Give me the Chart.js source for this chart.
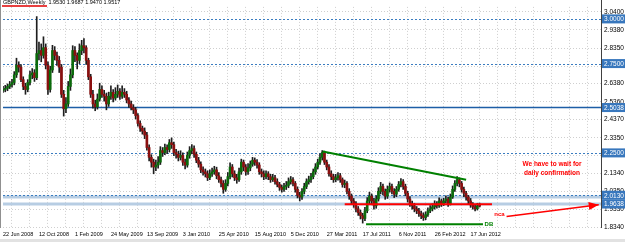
<!DOCTYPE html>
<html>
<head>
<meta charset="utf-8">
<script src="https://cdn.jsdelivr.net/npm/chart.js@4.4.1/dist/chart.umd.min.js"></script>
<style>
  html, body { margin: 0; padding: 0; background: #ffffff; }
  #wrap { position: relative; width: 625px; height: 242px; }
</style>
</head>
<body>
<div id="wrap"><canvas id="chart"></canvas></div>
<script>
// GBPNZD weekly candles, week 0 = 22 Jun 2008
const weekOpen = [
  2.600,2.605,2.611,2.622,2.633,2.644,2.687,2.741,2.730,2.660,
  2.622,2.605,2.644,2.687,2.698,2.671,2.806,2.823,2.796,2.839,
  2.741,2.605,2.714,2.823,2.796,2.768,2.730,2.578,2.497,2.524,
  2.622,2.687,2.823,2.796,2.768,2.823,2.850,2.839,2.768,2.676,
  2.578,2.524,2.508,2.551,2.605,2.578,2.567,2.524,2.567,2.589,
  2.557,2.578,2.595,2.567,2.589,2.578,2.546,2.524,2.502,2.491,
  2.459,2.415,2.388,2.372,2.350,2.280,2.225,2.198,2.171,2.182,
  2.198,2.263,2.252,2.280,2.269,2.307,2.296,2.252,2.242,2.225,
  2.236,2.198,2.182,2.236,2.263,2.274,2.242,2.209,2.187,2.155,
  2.144,2.133,2.111,2.133,2.144,2.155,2.122,2.100,2.079,2.046,
  2.079,2.117,2.171,2.133,2.111,2.100,2.144,2.198,2.171,2.144,
  2.166,2.187,2.209,2.198,2.182,2.144,2.133,2.117,2.133,2.117,
  2.100,2.111,2.089,2.073,2.057,2.046,2.062,2.068,2.089,2.100,
  2.079,2.046,2.013,2.003,2.035,2.062,2.089,2.100,2.117,2.144,
  2.171,2.198,2.225,2.252,2.198,2.171,2.133,2.117,2.100,2.111,
  2.122,2.100,2.073,2.079,2.035,2.008,1.981,1.965,1.937,1.916,
  1.899,1.883,1.926,1.981,2.008,1.981,1.954,1.992,2.035,2.062,
  2.035,2.008,2.046,2.062,2.035,2.019,2.046,2.073,2.089,2.062,
  2.024,1.992,1.965,1.954,1.937,1.926,1.910,1.899,1.888,1.905,
  1.926,1.937,1.948,1.965,1.954,1.981,1.965,1.981,1.992,1.965,
  2.003,2.046,2.079,2.100,2.079,2.046,2.024,2.003,1.981,1.959,
  1.948,1.937,1.9530
];
const weekHigh = [
  2.622,2.628,2.636,2.650,2.662,2.705,2.780,2.760,2.744,2.676,
  2.640,2.660,2.708,2.722,2.716,3.013,2.870,2.860,2.900,2.860,
  2.760,2.735,2.852,2.845,2.815,2.790,2.745,2.600,2.560,2.650,
  2.720,2.850,2.845,2.810,2.860,2.880,2.890,2.850,2.780,2.690,
  2.600,2.545,2.580,2.640,2.625,2.600,2.585,2.590,2.625,2.605,
  2.615,2.630,2.610,2.625,2.610,2.595,2.560,2.540,2.520,2.505,
  2.470,2.430,2.400,2.390,2.365,2.295,2.240,2.215,2.210,2.230,
  2.285,2.280,2.300,2.295,2.325,2.334,2.310,2.270,2.260,2.262,
  2.250,2.215,2.255,2.285,2.296,2.290,2.255,2.225,2.200,2.172,
  2.160,2.150,2.155,2.165,2.175,2.170,2.140,2.115,2.095,2.100,
  2.140,2.195,2.185,2.150,2.130,2.165,2.215,2.210,2.185,2.190,
  2.205,2.225,2.222,2.212,2.195,2.160,2.150,2.150,2.145,2.130,
  2.130,2.125,2.105,2.085,2.070,2.080,2.090,2.110,2.118,2.112,
  2.090,2.060,2.030,2.050,2.080,2.105,2.120,2.135,2.160,2.190,
  2.215,2.245,2.263,2.260,2.210,2.185,2.150,2.130,2.130,2.140,
  2.135,2.110,2.098,2.090,2.050,2.020,1.995,1.978,1.950,1.930,
  1.912,1.945,2.000,2.030,2.020,1.995,2.010,2.055,2.085,2.075,
  2.048,2.065,2.082,2.075,2.050,2.062,2.090,2.106,2.100,2.075,
  2.035,2.005,1.980,1.968,1.950,1.940,1.925,1.915,1.920,1.942,
  1.955,1.965,1.982,1.978,1.998,1.992,1.996,2.010,2.002,2.020,
  2.065,2.095,2.117,2.110,2.090,2.058,2.035,2.012,1.995,1.972,
  1.960,1.968,1.9687
];
const weekLow = [
  2.588,2.592,2.598,2.610,2.618,2.631,2.672,2.702,2.648,2.604,
  2.578,2.592,2.630,2.665,2.650,2.660,2.770,2.760,2.780,2.720,
  2.578,2.590,2.700,2.770,2.740,2.700,2.560,2.456,2.475,2.510,
  2.600,2.670,2.760,2.720,2.750,2.800,2.810,2.745,2.660,2.560,
  2.500,2.486,2.495,2.540,2.560,2.540,2.491,2.510,2.550,2.535,
  2.545,2.560,2.550,2.555,2.560,2.530,2.505,2.490,2.470,2.440,
  2.400,2.370,2.355,2.330,2.265,2.205,2.170,2.133,2.150,2.165,
  2.185,2.230,2.240,2.245,2.255,2.275,2.235,2.220,2.205,2.210,
  2.180,2.160,2.170,2.220,2.245,2.225,2.195,2.170,2.140,2.125,
  2.115,2.095,2.100,2.118,2.130,2.105,2.085,2.060,2.024,2.035,
  2.065,2.105,2.115,2.095,2.080,2.090,2.130,2.150,2.125,2.130,
  2.150,2.175,2.180,2.165,2.130,2.115,2.100,2.105,2.100,2.085,
  2.090,2.075,2.060,2.040,2.030,2.035,2.045,2.055,2.075,2.065,
  2.030,1.998,1.981,1.990,2.020,2.050,2.075,2.085,2.105,2.130,
  2.160,2.185,2.210,2.185,2.155,2.120,2.100,2.085,2.088,2.098,
  2.085,2.058,2.055,2.020,1.990,1.965,1.945,1.920,1.900,1.880,
  1.857,1.870,1.915,1.965,1.960,1.935,1.940,1.980,2.020,2.015,
  1.990,1.995,2.030,2.020,2.000,2.005,2.035,2.060,2.045,2.010,
  1.975,1.950,1.935,1.920,1.910,1.895,1.882,1.872,1.876,1.895,
  1.915,1.925,1.935,1.940,1.945,1.950,1.955,1.970,1.950,1.958,
  1.995,2.035,2.065,2.060,2.030,2.005,1.985,1.965,1.945,1.935,
  1.925,1.930,1.9470
];
const weekClose = [
  2.605,2.611,2.622,2.633,2.644,2.687,2.741,2.730,2.660,2.622,
  2.605,2.644,2.687,2.698,2.671,2.806,2.823,2.796,2.839,2.741,
  2.605,2.714,2.823,2.796,2.768,2.730,2.578,2.497,2.524,2.622,
  2.687,2.823,2.796,2.768,2.823,2.850,2.839,2.768,2.676,2.578,
  2.524,2.508,2.551,2.605,2.578,2.567,2.524,2.567,2.589,2.557,
  2.578,2.595,2.567,2.589,2.578,2.546,2.524,2.502,2.491,2.459,
  2.415,2.388,2.372,2.350,2.280,2.225,2.198,2.171,2.182,2.198,
  2.263,2.252,2.280,2.269,2.307,2.296,2.252,2.242,2.225,2.236,
  2.198,2.182,2.236,2.263,2.274,2.242,2.209,2.187,2.155,2.144,
  2.133,2.111,2.133,2.144,2.155,2.122,2.100,2.079,2.046,2.079,
  2.117,2.171,2.133,2.111,2.100,2.144,2.198,2.171,2.144,2.166,
  2.187,2.209,2.198,2.182,2.144,2.133,2.117,2.133,2.117,2.100,
  2.111,2.089,2.073,2.057,2.046,2.062,2.068,2.089,2.100,2.079,
  2.046,2.013,2.003,2.035,2.062,2.089,2.100,2.117,2.144,2.171,
  2.198,2.225,2.252,2.198,2.171,2.133,2.117,2.100,2.111,2.122,
  2.100,2.073,2.079,2.035,2.008,1.981,1.965,1.937,1.916,1.899,
  1.883,1.926,1.981,2.008,1.981,1.954,1.992,2.035,2.062,2.035,
  2.008,2.046,2.062,2.035,2.019,2.046,2.073,2.089,2.062,2.024,
  1.992,1.965,1.954,1.937,1.926,1.910,1.899,1.888,1.905,1.926,
  1.937,1.948,1.965,1.954,1.981,1.965,1.981,1.992,1.965,2.003,
  2.046,2.079,2.100,2.079,2.046,2.024,2.003,1.981,1.959,1.948,
  1.937,1.954,1.9517
];

// time axis labels, one every 16 weeks starting at week 0
const dateLabels = ['22 Jun 2008','12 Oct 2008','1 Feb 2009','24 May 2009','13 Sep 2009','3 Jan 2010',
  '25 Apr 2010','15 Aug 2010','5 Dec 2010','27 Mar 2011','17 Jul 2011','6 Nov 2011','26 Feb 2012','17 Jun 2012'];

// price scale ticks (right side)
const priceTicks = [3.0400, 2.9380, 2.8350, 2.7360, 2.6380, 2.5360, 2.4370, 2.3350, 2.2360, 2.1340, 2.0350, 1.9330, 1.8340];

// horizontal levels and their price tags
const dottedLevels = [3.0000, 2.7500, 2.2500, 2.0130];
const solidLevels = [2.5038];
const bandLevels = [2.0030, 1.9638];
const tagPrices = [3.0000, 2.7500, 2.5038, 2.2500, 2.0130, 1.9638];

// hand drawn lines: [week, price] end points
const upperTrend = [{x: 142.2, y: 2.258}, {x: 206.0, y: 2.100}];
const neckLine = [{x: 152.0, y: 1.962}, {x: 217.5, y: 1.962}];
const bottomLine = [{x: 161.5, y: 1.850}, {x: 213.5, y: 1.850}];
const arrowLine = [{x: 224.0, y: 1.894}, {x: 265.0, y: 1.960}];

const headerText = 'GBPNZD,Weekly  1.9530 1.9687 1.9470 1.9517';

const weeks = weekClose.map((c, i) => i);
const bodyColors = weekClose.map((c, i) => c >= weekOpen[i] ? '#0b6b0b' : '#8a0f0f');

const smallFont = "'Liberation Sans', Arial, sans-serif";

const overlay = {
    id: 'overlay',
    beforeDatasetsDraw(chart) {
        const {ctx, chartArea: a, scales: {y}} = chart;
        ctx.save();
        // light blue bands
        ctx.strokeStyle = '#b7cde3';
        ctx.lineWidth = 3;
        bandLevels.forEach(p => {
            const py = y.getPixelForValue(p);
            ctx.beginPath(); ctx.moveTo(a.left, py); ctx.lineTo(a.right, py); ctx.stroke();
        });
        // dotted blue levels
        ctx.strokeStyle = '#3a7cc0';
        ctx.lineWidth = 1;
        ctx.setLineDash([2, 2]);
        dottedLevels.forEach(p => {
            const py = Math.round(y.getPixelForValue(p)) + 0.5;
            ctx.beginPath(); ctx.moveTo(a.left, py); ctx.lineTo(a.right, py); ctx.stroke();
        });
        ctx.setLineDash([]);
        ctx.strokeStyle = '#1d5ea6';
        ctx.lineWidth = 1.5;
        solidLevels.forEach(p => {
            const py = y.getPixelForValue(p);
            ctx.beginPath(); ctx.moveTo(a.left, py); ctx.lineTo(a.right, py); ctx.stroke();
        });
        ctx.restore();
    },
    afterDraw(chart) {
        const {ctx, chartArea: a, scales: {x, y}} = chart;
        ctx.save();

        // frame
        ctx.strokeStyle = '#404040';
        ctx.lineWidth = 1;
        ctx.beginPath();
        ctx.moveTo(a.right + 0.5, 0); ctx.lineTo(a.right + 0.5, a.bottom);
        ctx.stroke();
        ctx.strokeStyle = '#909090';
        ctx.beginPath();
        ctx.moveTo(0.5, 0); ctx.lineTo(0.5, a.bottom);
        ctx.stroke();

        // price tags
        ctx.font = '6.5px ' + smallFont;
        ctx.textBaseline = 'middle';
        ctx.textAlign = 'left';
        tagPrices.forEach(p => {
            const py = y.getPixelForValue(p);
            ctx.fillStyle = '#3877bd';
            ctx.fillRect(a.right + 1, py - 4.5, 24, 9);
            ctx.fillStyle = '#ffffff';
            ctx.fillText(p.toFixed(4), a.right + 3, py + 0.5);
        });

        // arrow head
        const x0 = x.getPixelForValue(arrowLine[0].x), y0 = y.getPixelForValue(arrowLine[0].y);
        const x1 = x.getPixelForValue(arrowLine[1].x), y1 = y.getPixelForValue(arrowLine[1].y);
        const ang = Math.atan2(y1 - y0, x1 - x0);
        ctx.fillStyle = '#ff0000';
        ctx.beginPath();
        ctx.moveTo(x1, y1);
        ctx.lineTo(x1 - 10 * Math.cos(ang) + 4 * Math.sin(ang), y1 - 10 * Math.sin(ang) - 4 * Math.cos(ang));
        ctx.lineTo(x1 - 10 * Math.cos(ang) - 4 * Math.sin(ang), y1 - 10 * Math.sin(ang) + 4 * Math.cos(ang));
        ctx.closePath();
        ctx.fill();

        // labels on the chart
        ctx.font = 'bold 6px ' + smallFont;
        ctx.textAlign = 'left';
        ctx.fillStyle = '#ff0000';
        ctx.fillText('nca', x.getPixelForValue(218.5), y.getPixelForValue(1.906));
        ctx.fillStyle = '#008000';
        ctx.fillText('DB', x.getPixelForValue(214.2), y.getPixelForValue(1.850));

        ctx.font = 'bold 6.5px ' + smallFont;
        ctx.textAlign = 'center';
        ctx.fillStyle = '#ff0000';
        ctx.fillText('We have to wait for', 552, y.getPixelForValue(2.186));
        ctx.fillText('daily confirmation', 552, y.getPixelForValue(2.136));

        // header
        ctx.font = '5.5px ' + smallFont;
        ctx.textAlign = 'left';
        ctx.textBaseline = 'top';
        ctx.fillStyle = '#000000';
        ctx.fillText(headerText, 3, 0);
        ctx.strokeStyle = '#e00000';
        ctx.lineWidth = 1.5;
        ctx.beginPath(); ctx.moveTo(2, 6); ctx.lineTo(47, 6); ctx.stroke();

        // bottom strip
        ctx.fillStyle = '#e2e2e2';
        ctx.fillRect(0, 239, chart.width, 3);
        ctx.restore();
    }
};

new Chart(document.getElementById('chart'), {
    type: 'bar',
    data: {
        datasets: [
            {
                type: 'bar',
                data: weeks.map(i => ({x: i, y: [weekOpen[i], weekClose[i]]})),
                backgroundColor: bodyColors,
                barThickness: 2,
                minBarLength: 1,
                grouped: false,
                order: 2
            },
            {
                type: 'bar',
                data: weeks.map(i => ({x: i, y: [weekLow[i], weekHigh[i]]})),
                backgroundColor: '#1e1e1e',
                barThickness: 1,
                grouped: false,
                order: 3
            },
            { type: 'line', data: upperTrend, borderColor: '#008000', borderWidth: 2, pointRadius: 0, order: 0 },
            { type: 'line', data: neckLine, borderColor: '#ff0000', borderWidth: 2, pointRadius: 0, order: 0 },
            { type: 'line', data: bottomLine, borderColor: '#008000', borderWidth: 2, pointRadius: 0, order: 0 },
            { type: 'line', data: arrowLine, borderColor: '#ff0000', borderWidth: 1.5, pointRadius: 0, order: 0 }
        ]
    },
    options: {
        responsive: true,
        maintainAspectRatio: false,
        animation: false,
        layout: { padding: { left: 1, right: 0, top: 0, bottom: 0 } },
        plugins: { legend: { display: false }, tooltip: { enabled: false } },
        scales: {
            x: {
                type: 'linear',
                min: 0,
                max: 266,
                offset: false,
                afterFit(s) { s.height = 14; },
                grid: { color: '#cfcfcf', drawTicks: false },
                border: { display: false, dash: [1, 2] },
                ticks: {
                    stepSize: 8,
                    includeBounds: false,
                    autoSkip: false,
                    maxRotation: 0,
                    align: 'start',
                    padding: 3,
                    color: '#000000',
                    font: { family: smallFont, size: 5.5 },
                    callback: v => (v % 16 === 0 && dateLabels[v / 16]) ? dateLabels[v / 16] : ''
                }
            },
            y: {
                position: 'right',
                min: 1.8296,
                max: 3.0672,
                afterFit(s) { s.width = 24; },
                afterBuildTicks(s) { s.ticks = priceTicks.map(v => ({value: v})); },
                grid: { color: '#cfcfcf', drawTicks: false },
                border: { display: false, dash: [1, 2] },
                ticks: {
                    padding: 3,
                    color: '#000000',
                    font: { family: smallFont, size: 6.5 },
                    callback: v => Number(v).toFixed(4)
                }
            }
        }
    },
    plugins: [overlay]
});
</script>
</body>
</html>
